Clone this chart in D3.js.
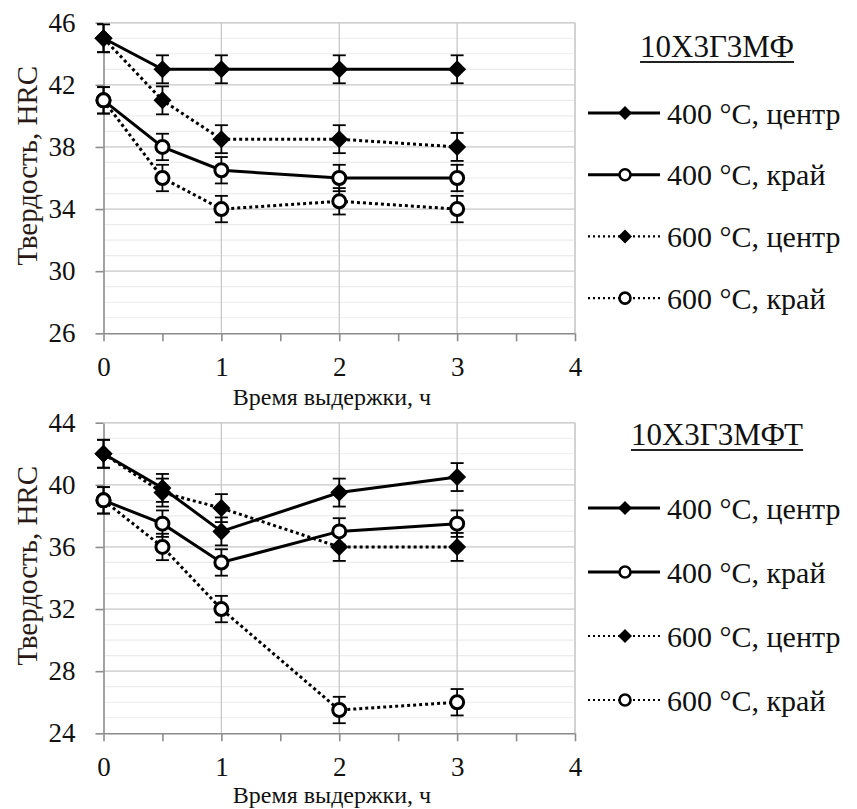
<!DOCTYPE html>
<html>
<head>
<meta charset="utf-8">
<script src="https://cdn.jsdelivr.net/npm/d3@7"></script>
<style>
  body { margin: 0; background: #fff; }
</style>
</head>
<body>
<div id="chart"></div>
<script>
// holding time, h
var times = [0, 0.5, 1, 2, 3]
var xTicks = [0, 1, 2, 3, 4]
var xMinorTicks = [0, 0.5, 1, 1.5, 2, 2.5, 3, 3.5, 4]
var seriesNames = ['400 °C, центр', '400 °C, край', '600 °C, центр', '600 °C, край']
var seriesErr = [0.9, 0.85, 0.9, 0.85] // +/- HRC

// 10Х3Г3МФ
var topTitle = '10Х3Г3МФ'
var topYTicks = [26, 30, 34, 38, 42, 46]
var top400c = [45, 43, 43, 43, 43]
var top400e = [41, 38, 36.5, 36, 36]
var top600c = [45, 41, 38.5, 38.5, 38]
var top600e = [41, 36, 34, 34.5, 34]

// 10Х3Г3МФТ
var botTitle = '10Х3Г3МФТ'
var botYTicks = [24, 28, 32, 36, 40, 44]
var bot400c = [42, 39.8, 37, 39.5, 40.5]
var bot400e = [39, 37.5, 35, 37, 37.5]
var bot600c = [42, 39.5, 38.5, 36, 36]
var bot600e = [39, 36, 32, 25.5, 26]

// line / marker style of each series
var styles = [
  {dash: null, marker: 'diamond'},
  {dash: null, marker: 'circle'},
  {dash: '3,3', marker: 'diamond'},
  {dash: '3,3', marker: 'circle'}
]

var FONT = 'Liberation Serif'
var W = 857, H = 809
var svg = d3.select('#chart').append('svg')
    .attr('width', W)
    .attr('height', H)
    .style('font-family', FONT)

var diamond = function(h) { return d3.symbol(d3.symbolSquare, 2*h*h)() }

makepanel = function(cfg) {

  var ymin = cfg.yTicks[0]
  var ymax = cfg.yTicks[cfg.yTicks.length-1]
  var x = d3.scaleLinear().domain([0, 4]).range([103.5, 575])
  var y = d3.scaleLinear().domain([ymin, ymax]).range([cfg.bottom, cfg.top])

  var g = svg.append('g')

  // minor gridlines
  g.selectAll('.minor').data(d3.range(ymin+1, ymax, 1).filter(function(v) { return cfg.yTicks.indexOf(v) < 0 }))
    .enter().append('line')
    .attr('x1', x(0)).attr('x2', x(4))
    .attr('y1', function(d) { return y(d) }).attr('y2', function(d) { return y(d) })
    .attr('stroke', '#ececec').attr('stroke-width', 1.2)

  // major gridlines
  g.selectAll('.major').data(cfg.yTicks.slice(1))
    .enter().append('line')
    .attr('x1', x(0)).attr('x2', x(4))
    .attr('y1', function(d) { return y(d) }).attr('y2', function(d) { return y(d) })
    .attr('stroke', '#c8c8c8').attr('stroke-width', 1.3)

  g.selectAll('.vgrid').data(xTicks.slice(1))
    .enter().append('line')
    .attr('x1', function(d) { return x(d) }).attr('x2', function(d) { return x(d) })
    .attr('y1', y(ymin)).attr('y2', y(ymax))
    .attr('stroke', '#c8c8c8').attr('stroke-width', 1.3)

  // axes
  var ya = g.append('g')
    .attr('transform', 'translate(' + x(0) + ',0)')
    .call(d3.axisLeft(y).tickValues(cfg.yTicks).tickSize(8).tickSizeOuter(0).tickPadding(20))
  var xa = g.append('g')
    .attr('transform', 'translate(0,' + y(ymin) + ')')
    .call(d3.axisBottom(x).tickValues(xMinorTicks).tickSize(8).tickSizeOuter(0).tickPadding(16)
      .tickFormat(function(d) { return xTicks.indexOf(d) >= 0 ? d : '' }))

  ;[ya, xa].forEach(function(a) {
    a.attr('font-family', null).attr('font-size', 27)
    a.style('font-family', FONT)
    a.select('.domain').attr('stroke', '#8c8c8c').attr('stroke-width', 1.6)
    a.selectAll('.tick line').attr('stroke', '#8c8c8c').attr('stroke-width', 1.6)
    a.selectAll('.tick text').attr('fill', '#111')
  })

  // axis titles
  g.append('text')
    .attr('x', 332)
    .attr('y', y(ymin) + cfg.xTitleDy)
    .attr('text-anchor', 'middle')
    .attr('font-size', 24)
    .attr('fill', '#111')
    .text('Время выдержки, ч')

  g.append('text')
    .attr('transform', 'translate(37,' + (cfg.top + 143) + ') rotate(-90)')
    .attr('text-anchor', 'middle')
    .attr('font-size', 29)
    .attr('fill', '#2a1a16')
    .text('Твердость,  HRC')

  // series lines
  var line = d3.line()
    .x(function(d, i) { return x(times[i]) })
    .y(function(d) { return y(d) })

  cfg.series.forEach(function(vals, s) {
    g.append('path')
      .attr('d', line(vals))
      .attr('fill', 'none')
      .attr('stroke', '#000')
      .attr('stroke-width', 3)
      .attr('stroke-dasharray', styles[s].dash)
  })

  // error bars
  cfg.series.forEach(function(vals, s) {
    vals.forEach(function(v, i) {
      var cx = x(times[i])
      var e = seriesErr[s]
      g.append('line').attr('x1', cx).attr('x2', cx).attr('y1', y(v-e)).attr('y2', y(v+e))
        .attr('stroke', '#000').attr('stroke-width', 1.8)
      ;[v-e, v+e].forEach(function(c) {
        g.append('line').attr('x1', cx-6.5).attr('x2', cx+6.5).attr('y1', y(c)).attr('y2', y(c))
          .attr('stroke', '#000').attr('stroke-width', 1.8)
      })
    })
  })

  // markers
  cfg.series.forEach(function(vals, s) {
    vals.forEach(function(v, i) {
      if (styles[s].marker == 'diamond') {
        g.append('path')
          .attr('d', diamond(9))
          .attr('transform', 'translate(' + x(times[i]) + ',' + y(v) + ') rotate(45)')
          .attr('fill', '#000')
      } else {
        g.append('circle')
          .attr('cx', x(times[i])).attr('cy', y(v)).attr('r', 6.5)
          .attr('fill', '#fff').attr('stroke', '#000').attr('stroke-width', 3)
      }
    })
  })

  // plot frame top and right
  g.append('line').attr('x1', x(0)).attr('x2', x(4)).attr('y1', y(ymax)).attr('y2', y(ymax))
    .attr('stroke', '#cfcfcf').attr('stroke-width', 1.5)
  g.append('line').attr('x1', x(4)).attr('x2', x(4)).attr('y1', y(ymax)).attr('y2', y(ymin))
    .attr('stroke', '#cfcfcf').attr('stroke-width', 1.5)

  // legend
  var lt = g.append('text')
    .attr('x', 717)
    .attr('y', cfg.legTitleY)
    .attr('text-anchor', 'middle')
    .attr('font-size', 31)
    .attr('fill', '#111')
    .text(cfg.title)
  var tw = lt.node().getComputedTextLength()
  g.append('line')
    .attr('x1', 717 - tw/2).attr('x2', 717 + tw/2)
    .attr('y1', cfg.legTitleY + 5).attr('y2', cfg.legTitleY + 5)
    .attr('stroke', '#222').attr('stroke-width', 2)

  seriesNames.forEach(function(name, s) {
    var ly = cfg.legY0 + s*cfg.legDy
    g.append('line')
      .attr('x1', 588).attr('x2', 660).attr('y1', ly).attr('y2', ly)
      .attr('stroke', '#000')
      .attr('stroke-width', styles[s].dash ? 2.2 : 3)
      .attr('stroke-dasharray', styles[s].dash ? '2,3' : null)
    if (styles[s].marker == 'diamond') {
      g.append('path')
        .attr('d', diamond(7))
        .attr('transform', 'translate(625,' + ly + ') rotate(45)')
        .attr('fill', '#000')
    } else {
      g.append('circle')
        .attr('cx', 625).attr('cy', ly).attr('r', 5.5)
        .attr('fill', '#fff').attr('stroke', '#000').attr('stroke-width', 2.6)
    }
    g.append('text')
      .attr('x', 667)
      .attr('y', ly)
      .attr('dy', '0.35em')
      .attr('font-size', 30)
      .attr('fill', '#111')
      .text(name)
  })
}

makepanel({top: 22.7, bottom: 333.3, yTicks: topYTicks, title: topTitle, xTitleDy: 72,
  series: [top400c, top400e, top600c, top600e], legTitleY: 57, legY0: 113, legDy: 61.7})

makepanel({top: 422.7, bottom: 733.3, yTicks: botYTicks, title: botTitle, xTitleDy: 70,
  series: [bot400c, bot400e, bot600c, bot600e], legTitleY: 445, legY0: 508, legDy: 64})
</script>
</body>
</html>
